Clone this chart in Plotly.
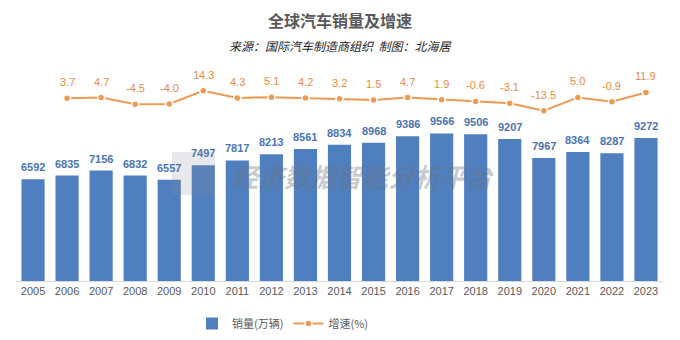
import plotly.graph_objects as go

years = [str(y) for y in range(2005, 2024)]
sales = [6592, 6835, 7156, 6832, 6557, 7497, 7817, 8213, 8561, 8834, 8968, 9386, 9566, 9506, 9207, 7967, 8364, 8287, 9272]
growth_years = years[1:]
growth = [3.7, 4.7, -4.5, -4.0, 14.3, 4.3, 5.1, 4.2, 3.2, 1.5, 4.7, 1.9, -0.6, -3.1, -13.5, 5.0, -0.9, 11.9]

title = "全球汽车销量及增速"
subtitle = "来源：国际汽车制造商组织  制图：北海居"
watermark = "经济数据智能分析平台"

lab = "Liberation Sans Narrow, Arial Narrow, Liberation Sans, Arial, sans-serif"
cjk = "Noto Sans CJK SC, sans-serif"

W, H = 680, 340
l, r, t, b = 16, 17, 65, 59
pw, ph = W - l - r, H - t - b
def px(x): return (x - l) / pw
def py(y): return (H - b - y) / ph

fig = go.Figure()
fig.add_trace(go.Bar(
    x=years, y=sales, name="销量(万辆)",
    marker=dict(color="#4F7FBE", line=dict(width=0)),
))
fig.add_trace(go.Scatter(
    x=growth_years, y=growth, name="增速(%)", yaxis="y2",
    mode="lines+markers",
    line=dict(color="#EE9A52", width=2),
    marker=dict(color="#EE9A52", size=7, line=dict(color="white", width=1.5)),
    cliponaxis=False,
))

anns = [
    dict(text="<b>" + title + "</b>", x=px(340), y=py(20), xref="paper", yref="paper",
         showarrow=False, yanchor="middle",
         font=dict(family=cjk, size=16, color="#595959")),
    dict(text="<i>" + subtitle + "</i>", x=px(340), y=py(45), xref="paper", yref="paper",
         showarrow=False, yanchor="middle",
         font=dict(family=cjk, size=12, color="#262626")),
    dict(text="<b><i>" + watermark + "</i></b>", x=px(363), y=py(175), xref="paper", yref="paper",
         showarrow=False, yanchor="middle",
         font=dict(family=cjk, size=26, color="rgba(110,115,125,0.38)")),
]
for i, yv in enumerate(sales):
    anns.append(dict(text=f"<b>{yv}</b>", x=i, y=yv, xref="x", yref="y", showarrow=False,
                     yanchor="middle", yshift=12,
                     font=dict(family=lab, size=11, color="#4A74B4")))
for j, yv in enumerate(growth):
    anns.append(dict(text=f"{yv:.1f}", x=years.index(growth_years[j]), y=yv, xref="x", yref="y2",
                     showarrow=False, yanchor="middle", yshift=16,
                     font=dict(family=lab, size=11, color="#E98A3C")))

fig.update_layout(
    width=W, height=H,
    margin=dict(l=l, r=r, t=t, b=b, autoexpand=False),
    paper_bgcolor="white", plot_bgcolor="white",
    bargap=0.32,
    showlegend=True,
    legend=dict(orientation="h", x=px(192), xanchor="left", y=py(309), yanchor="top",
                font=dict(family=cjk, size=11, color="#595959"), itemwidth=30),
    xaxis=dict(type="category", range=[-0.5, len(years) - 0.5], showgrid=False, showline=True,
               linecolor="#D9D9D9", linewidth=1,
               ticks="", tickfont=dict(family=lab, size=11, color="#595959")),
    yaxis=dict(range=[0, 14000], visible=False, showgrid=False),
    yaxis2=dict(range=[-250, 50], overlaying="y", visible=False, showgrid=False),
    annotations=anns,
    shapes=[
        dict(type="rect", xref="paper", yref="paper", x0=px(172), x1=px(215), y0=py(195), y1=py(152),
             fillcolor="rgba(140,140,150,0.2)", line=dict(width=0), layer="above"),
    ],
)

fig.write_html("out.html")
